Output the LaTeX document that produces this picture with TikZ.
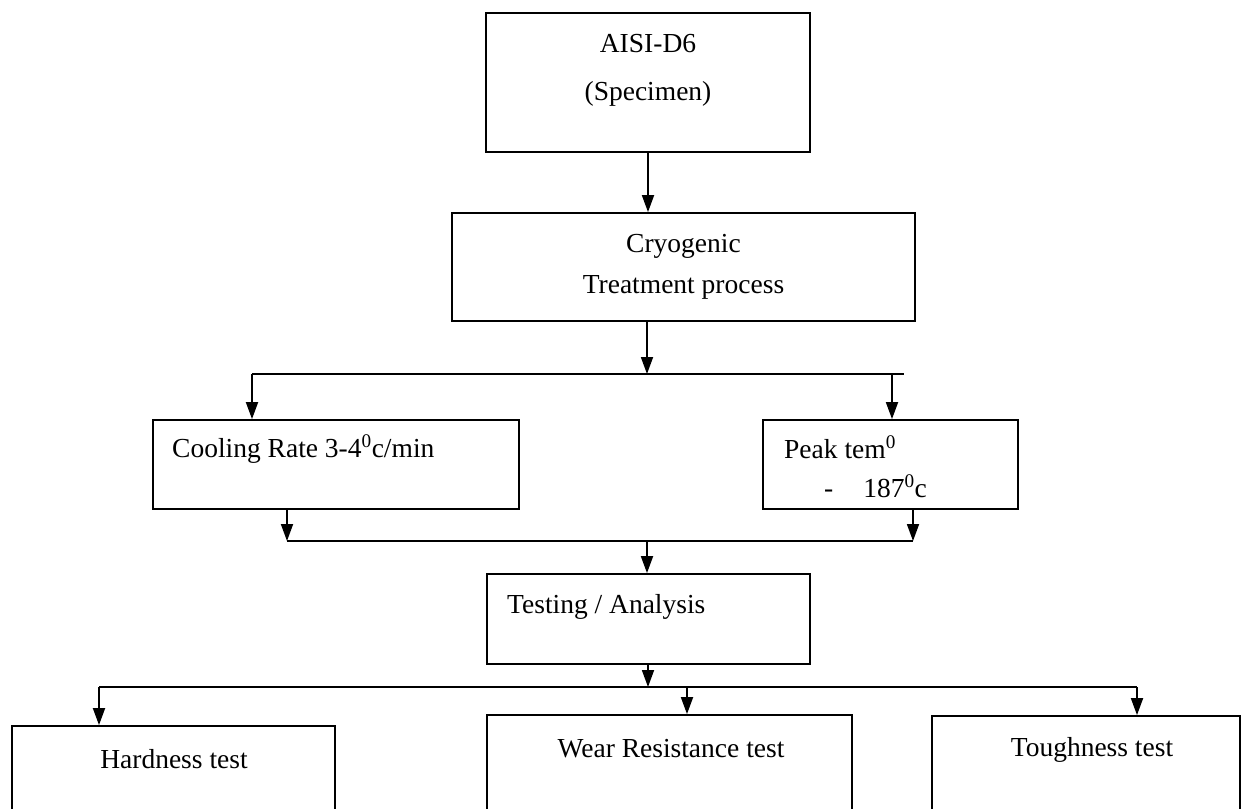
\documentclass[tikz,border=0pt]{standalone}
\usepackage{fontspec}
\setmainfont{Liberation Serif}
\usetikzlibrary{arrows.meta}
\tikzstyle{block} = [rectangle, draw, line width=1.8pt, inner sep=0pt]
\tikzstyle{txt} = [inner sep=0pt, font=\fontsize{27.5}{41}\selectfont]
\tikzstyle{arrow} = [-{Triangle[width=12pt,length=17pt]}, line width=1.8pt]
\tikzstyle{line} = [line width=1.8pt]

\begin{document}
\begin{tikzpicture}[x=1pt, y=-1pt]
        \useasboundingbox (0,0) rectangle (1243,809);
        \clip (0,0) rectangle (1243,809);
        % Nodes
        \node (spec) [block, minimum width=324pt, minimum height=139pt] at (648,82.5) {};
        \node (spec1) [txt, anchor=base] at (648,52) {AISI-D6};
        \node (spec2) [txt, anchor=base] at (648,100) {(Specimen)};
        \node (cryo) [block, txt, align=center, minimum width=463pt, minimum height=108pt] at (683.5,267) {Cryogenic\\Treatment process};
        \node (cool) [block, minimum width=366pt, minimum height=89pt] at (336,464.5) {};
        \node (cooltxt) [txt, anchor=base west] at (172,457) {Cooling Rate 3-4\textsuperscript{0}c/min};
        \node (peak) [block, minimum width=255pt, minimum height=89pt] at (890.5,464.5) {};
        \node (peak1) [txt, anchor=base west] at (784,458) {Peak tem\textsuperscript{0}};
        \node (peak2) [txt, anchor=base west] at (824,497) {-\hspace{30pt}187\textsuperscript{0}c};
        \node (test) [block, minimum width=323pt, minimum height=90pt] at (648.5,619) {};
        \node (testtxt) [txt, anchor=base west] at (507,613) {Testing / Analysis};
        \node (hard) [block, minimum width=323pt, minimum height=120pt] at (173.5,786) {};
        \node (hardtxt) [txt, anchor=base] at (174,768) {Hardness test};
        \node (wear) [block, minimum width=365pt, minimum height=120pt] at (669.5,775) {};
        \node (weartxt) [txt, anchor=base] at (671,757) {Wear Resistance test};
        \node (tough) [block, minimum width=308pt, minimum height=120pt] at (1086,776) {};
        \node (toughtxt) [txt, anchor=base] at (1092,756) {Toughness test};

        % Junctions
        \coordinate (split) at (647,374);
        \coordinate (splitL) at (252,374);
        \coordinate (splitR) at (904,374);
        \coordinate (toPeak) at (892,374);
        \coordinate (merge) at (647,541);
        \coordinate (mergeL) at (287,541);
        \coordinate (mergeR) at (913,541);
        \coordinate (fan) at (648,687);
        \coordinate (fanL) at (99,687);
        \coordinate (fanR) at (1137,687);
        \coordinate (toWear) at (687,687);

        % Arrows
        \draw[arrow] (spec.south) -- (spec.south |- cryo.north);
        \draw[arrow] (cryo.south -| split) -- (split);
        \draw[line] (splitL) -- (splitR);
        \draw[arrow] (splitL) -- (splitL |- cool.north);
        \draw[arrow] (toPeak) -- (toPeak |- peak.north);
        \draw[arrow] (cool.south -| mergeL) -- (mergeL);
        \draw[arrow] (peak.south -| mergeR) -- (mergeR);
        \draw[line] (mergeL) -- (mergeR);
        \draw[arrow] (merge) -- (merge |- test.north);
        \draw[arrow] (test.south -| fan) -- (fan);
        \draw[line] (fanL) -- (fanR);
        \draw[arrow] (fanL) -- (fanL |- hard.north);
        \draw[arrow] (toWear) -- (toWear |- wear.north);
        \draw[arrow] (fanR) -- (fanR |- tough.north);
    \end{tikzpicture}
\end{document}
